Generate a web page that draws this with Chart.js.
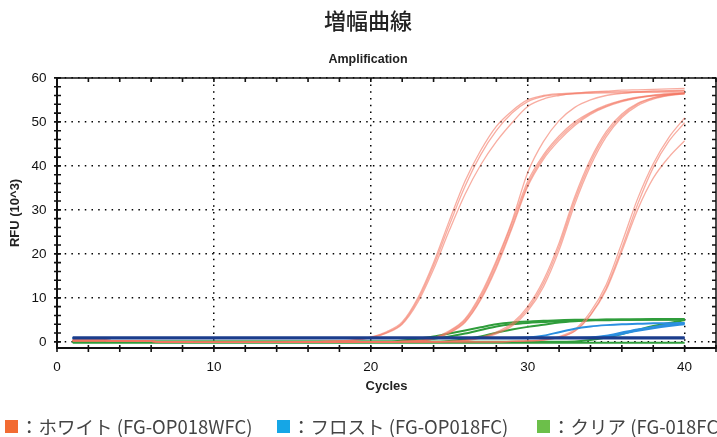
<!DOCTYPE html>
<html lang="ja">
<head>
<meta charset="UTF-8">
<title>増幅曲線</title>
<script src="https://cdn.jsdelivr.net/npm/chart.js"></script>
<style>
  body { margin: 0; background: #fff; }
  #wrap { position: relative; width: 717px; height: 437px; overflow: hidden; }
  #myChart { position: absolute; left: 0; top: 0; }
  .box { position: absolute; top: 420px; width: 13px; height: 13px; }
  .key { position: absolute; top: 415px; line-height: 22px; white-space: nowrap;
         font-family: "Noto Sans CJK JP", sans-serif; font-size: 18.5px; color: #444; }
</style>
</head>
<body>
<div id="wrap">
  <canvas id="myChart" width="736" height="437"></canvas>
  <div class="box" style="left:5px;background:#f26b32"></div>
  <div class="key" style="left:20px">：ホワイト (FG-OP018WFC)</div>
  <div class="box" style="left:277px;background:#15a6e6"></div>
  <div class="key" style="left:292px">：フロスト (FG-OP018FC)</div>
  <div class="box" style="left:537px;background:#6cbf4a"></div>
  <div class="key" style="left:552px">：クリア (FG-018FC)</div>
</div>
<script>
// cycles 1..40
let cycles = [1,2,3,4,5,6,7,8,9,10,11,12,13,14,15,16,17,18,19,20,
              21,22,23,24,25,26,27,28,29,30,31,32,33,34,35,36,37,38,39,40];
let xTicks = [0,2,4,6,8,10,12,14,16,18,20,22,24,26,28,30,32,34,36,38,40,42];
let xLabels = [0,10,20,30,40];
let yTicks = [0,2,4,6,8,10,12,14,16,18,20,22,24,26,28,30,32,34,36,38,40,42,44,46,48,50,52,54,56,58,60];
let yLabels = [0,10,20,30,40,50,60];

// ホワイト (RFU x10^3)
let redA1 = [0.3,0.3,0.3,0.2,0.2,0.1,0,0,-0.1,-0.1,-0.1,-0.1,-0.1,-0.1,0,0,0.1,0.2,0.5,1.1,
             2.3,4.5,10,18,27.5,36.5,43.5,49,52.5,55,56,56.4,56.6,56.7,56.8,56.9,56.9,57,57,57.1];
let redA2 = [0.3,0.3,0.3,0.2,0.2,0.1,0,0,-0.1,-0.1,-0.1,-0.1,-0.1,-0.1,0,0,0.1,0.2,0.4,1.0,
             2.1,4.2,9.5,17.3,26.5,35.3,42.5,48,52,54.6,55.8,56.2,56.4,56.5,56.6,56.6,56.7,56.7,56.8,56.8];
let redA3 = [0.3,0.3,0.3,0.2,0.2,0.1,0,0,-0.1,-0.1,-0.1,-0.1,-0.1,-0.1,0,0,0.1,0.2,0.4,0.9,
             2.0,4.0,9.0,16.5,25.3,33.5,40.2,45.5,49.8,53.5,55.2,56,56.5,56.8,57,57.2,57.3,57.4,57.5,57.6];
let redB1 = [0.3,0.3,0.3,0.2,0.2,0.1,0,0,-0.1,-0.1,-0.1,-0.1,-0.1,-0.1,-0.1,0,0,0,0,0,
             0,0.1,0.3,0.9,2.5,5.2,10.8,18.5,27.5,38.5,45.5,50.3,53.3,55,56,56.5,56.8,57,57.1,57.2];
let redB2 = [0.3,0.3,0.3,0.2,0.2,0.1,0,0,-0.1,-0.1,-0.1,-0.1,-0.1,-0.1,-0.1,0,0,0,0,0,
             0,0.1,0.3,0.8,2.3,4.9,10.3,18,27,36.5,42.5,46.8,50,52.2,53.8,54.9,55.6,56.1,56.4,56.6];
let redB3 = [0.3,0.3,0.3,0.2,0.2,0.1,0,0,-0.1,-0.1,-0.1,-0.1,-0.1,-0.1,-0.1,0,0,0,0,0,
             0,0.1,0.2,0.7,2.1,4.6,9.8,17.3,26.3,35.8,42,46.3,49.6,52,53.6,54.8,55.5,56,56.3,56.5];
let redB4 = [0.3,0.3,0.3,0.2,0.2,0.1,0,0,-0.1,-0.1,-0.1,-0.1,-0.1,-0.1,-0.1,0,0,0,0,0,
             0,0.1,0.2,0.7,2.0,4.4,9.5,16.8,25.8,35.3,41.5,45.8,49.2,51.7,53.4,54.6,55.4,55.9,56.2,56.4];
let redC1 = [0.3,0.3,0.3,0.2,0.2,0.1,0,0,-0.1,-0.1,-0.1,-0.1,-0.1,-0.1,-0.1,-0.1,-0.1,-0.1,0,0,
             0,0,0,0,0.1,0.4,1.0,2.2,4.2,8,14,22.5,33,41.5,47.8,51.8,54.2,55.5,56.2,56.6];
let redC2 = [0.3,0.3,0.3,0.2,0.2,0.1,0,0,-0.1,-0.1,-0.1,-0.1,-0.1,-0.1,-0.1,-0.1,-0.1,-0.1,0,0,
             0,0,0,0,0.1,0.3,0.9,2.0,3.9,7.5,13.3,21.7,32.2,40.8,47.2,51.4,54,55.4,56.1,56.5];
let redC3 = [0.3,0.3,0.3,0.2,0.2,0.1,0,0,-0.1,-0.1,-0.1,-0.1,-0.1,-0.1,-0.1,-0.1,-0.1,-0.1,0,0,
             0,0,0,0,0.1,0.3,0.8,1.8,3.6,7.0,12.5,20.8,31.3,40,46.6,51,53.7,55.2,56,56.4];
let redD1 = [0.3,0.3,0.3,0.2,0.2,0.1,0,0,-0.1,-0.1,-0.1,-0.1,-0.1,-0.1,-0.1,-0.1,-0.1,-0.1,-0.1,-0.1,
             -0.1,0,0,0,0,0,0,0,0.1,0.2,0.5,1.2,2.8,6.8,13,22.5,32.5,40.5,46.5,50.9];
let redD2 = [0.3,0.3,0.3,0.2,0.2,0.1,0,0,-0.1,-0.1,-0.1,-0.1,-0.1,-0.1,-0.1,-0.1,-0.1,-0.1,-0.1,-0.1,
             -0.1,0,0,0,0,0,0,0,0.1,0.2,0.4,1.0,2.5,6.2,12.2,21.3,31.2,39.6,45.6,49.8];
let redD3 = [0.3,0.3,0.3,0.2,0.2,0.1,0,0,-0.1,-0.1,-0.1,-0.1,-0.1,-0.1,-0.1,-0.1,-0.1,-0.1,-0.1,-0.1,
             -0.1,0,0,0,0,0,0,0,0.1,0.2,0.4,1.0,2.4,6.0,11.8,20.6,30,37.2,42,45.7];

// フロスト
let navy1 = [1,1,1,1,1,1,1,1,1,1,1,1,1,1,1,1,1,1,1,1,
             1,1,1,1,1,1,1,1,1,1,1,1,1,1,1,1,1,1,1,1];
let navy2 = [0.8,0.8,0.8,0.8,0.8,0.8,0.8,0.8,0.8,0.8,0.8,0.8,0.8,0.8,0.8,0.8,0.8,0.8,0.8,0.8,
             0.8,0.8,0.8,0.8,0.8,0.8,0.8,0.8,0.8,0.8,0.8,0.8,0.8,0.8,0.8,0.8,0.8,0.8,0.8,0.8];
let blue1 = [0.9,0.9,0.9,0.9,0.9,0.9,0.9,0.9,0.9,0.9,0.9,0.9,0.9,0.9,0.9,0.9,0.9,0.9,0.9,0.9,
             0.9,0.9,0.9,0.9,0.9,0.9,0.9,0.9,0.9,1.0,1.4,2.2,3.0,3.5,3.8,4.0,4.1,4.2,4.2,4.3];
let blue2 = [0.9,0.9,0.9,0.9,0.9,0.9,0.9,0.9,0.9,0.9,0.9,0.9,0.9,0.9,0.9,0.9,0.9,0.9,0.9,0.9,
             0.9,0.9,0.9,0.9,0.9,0.9,0.9,0.9,0.9,0.9,0.9,0.9,0.9,1.0,1.4,2.1,2.8,3.4,3.9,4.2];
let blue3 = [0.9,0.9,0.9,0.9,0.9,0.9,0.9,0.9,0.9,0.9,0.9,0.9,0.9,0.9,0.9,0.9,0.9,0.9,0.9,0.9,
             0.9,0.9,0.9,0.9,0.9,0.9,0.9,0.9,0.9,0.9,0.9,0.9,0.9,0.9,1.2,1.8,2.5,3.1,3.6,4.0];

// クリア
let green1 = [0,0,0,0,0,0,0,0,0,0,0,0,0,0,0,0,0,0,0,0,
              0,0.3,0.7,1.2,1.9,2.6,3.3,4.0,4.4,4.6,4.8,4.9,5.0,5.0,5.1,5.1,5.1,5.2,5.2,5.2];
let green2 = [0,0,0,0,0,0,0,0,0,0,0,0,0,0,0,0,0,0,0,0,
              0,0,0.3,0.7,1.2,1.9,2.7,3.5,4.0,4.3,4.5,4.7,4.8,4.9,4.9,5.0,5.0,5.0,5.0,5.0];
let green3 = [0,0,0,0,0,0,0,0,0,0,0,0,0,0,0,0,0,0,0,0,
              0,0,0,0,0.2,0.6,1.2,2.1,2.8,3.4,3.9,4.4,4.7,4.9,5.0,5.0,5.1,5.1,5.1,5.1];
let green4 = [0,0,0,0,0,0,0,0,0,0,0,0,0,0,0,0,0,0,0,0,
              0,0,0,0,0,0,0,0,0,0,0,0,0.1,0.4,1.0,1.8,2.7,3.6,4.3,4.9];
let green5 = [-0.2,-0.2,-0.2,-0.2,-0.2,-0.2,-0.2,-0.2,-0.2,-0.2,-0.2,-0.2,-0.2,-0.2,-0.2,-0.2,-0.2,-0.2,-0.2,-0.2,
              -0.2,-0.2,-0.2,-0.2,-0.2,-0.2,-0.2,-0.2,-0.2,-0.2,-0.2,-0.2,-0.2,-0.2,-0.2,-0.2,-0.2,-0.2,-0.2,-0.2];

let redCurves = [redA1, redA2, redA3, redB1, redB2, redB3, redB4, redC1, redC2, redC3, redD1, redD2, redD3];
let navyCurves = [navy1, navy2];
let blueCurves = [blue1, blue2, blue3];
let greenCurves = [green1, green2, green3, green4, green5];

function makeSet(values, color, width) {
    return { data: values, borderColor: color, borderWidth: width, yAxisID: 'y',
             pointRadius: 0, fill: false, cubicInterpolationMode: 'monotone' };
}

// first dataset is drawn on top
let datasets = [];
navyCurves.forEach(v => datasets.push(makeSet(v, '#1b3d8c', 2.6)));
blueCurves.forEach(v => datasets.push(makeSet(v, '#2b8fe0', 2)));
redCurves.forEach(v => datasets.push(makeSet(v, 'rgba(243,118,98,0.6)', 1.3)));
greenCurves.forEach(v => datasets.push(makeSet(v, '#2f9d3b', 2)));

// frame on top/right plus small ticks crossing all four borders
let frameTicks = {
    id: 'frameTicks',
    afterDatasetsDraw(chart) {
        let ctx = chart.ctx;
        let a = chart.chartArea;
        let sx = chart.scales.x;
        let sy = chart.scales.y;
        ctx.save();
        ctx.strokeStyle = '#111';
        ctx.lineWidth = 1.5;
        ctx.beginPath();
        ctx.moveTo(a.left, a.top);
        ctx.lineTo(a.right, a.top);
        ctx.lineTo(a.right, a.bottom);
        ctx.stroke();
        ctx.lineWidth = 1.6;
        ctx.beginPath();
        xTicks.forEach(v => {
            let px = sx.getPixelForValue(v);
            ctx.moveTo(px, a.bottom - 3);
            ctx.lineTo(px, a.bottom + 4);
            ctx.moveTo(px, a.top);
            ctx.lineTo(px, a.top + 4);
        });
        yTicks.forEach(v => {
            let py = sy.getPixelForValue(v);
            ctx.moveTo(a.left - 3, py);
            ctx.lineTo(a.left + 4, py);
            ctx.moveTo(a.right - 4, py);
            ctx.lineTo(a.right, py);
        });
        ctx.stroke();
        ctx.restore();
    }
};

let numFont = { family: '"Liberation Sans", Arial, sans-serif', size: 13.5 };
let boldFont = { family: '"Liberation Sans", Arial, sans-serif', size: 13, weight: 'bold' };

let ctx = document.getElementById('myChart');
let myChart = new Chart(ctx, {
    type: 'line',
    data: { labels: cycles, datasets: datasets },
    options: {
        responsive: false,
        animation: false,
        events: [],
        layout: { padding: { left: 0, right: 0, top: 0, bottom: 39 } },
        plugins: {
            legend: { display: false },
            tooltip: { enabled: false },
            title: {
                display: true, text: '増幅曲線', color: '#222',
                font: { family: '"Noto Sans CJK JP", sans-serif', size: 22, weight: 500 },
                padding: { top: 7, bottom: 19 }
            },
            subtitle: {
                display: true, text: 'Amplification', color: '#222',
                font: { family: '"Liberation Sans", Arial, sans-serif', size: 12.5, weight: 'bold' },
                padding: { top: 0, bottom: 10.5 }
            }
        },
        scales: {
            x: {
                type: 'linear', min: 0, max: 42,
                afterBuildTicks: s => { s.ticks = xTicks.map(v => ({ value: v })); },
                afterFit: s => { s.height = 50; },
                ticks: {
                    autoSkip: false, maxRotation: 0, padding: 11, color: '#111', font: numFont,
                    callback: v => xLabels.includes(v) ? String(v) : ''
                },
                grid: {
                    drawTicks: false, color: '#000',
                    lineWidth: c => (c.tick && xLabels.includes(c.tick.value)) ? 1.5 : 0
                },
                border: { display: true, color: '#111', width: 2, dash: [1.5, 5.2] },
                title: { display: true, text: 'Cycles', color: '#222', font: boldFont,
                         padding: { top: 4, bottom: 4 } }
            },
            y: {
                type: 'linear', position: 'left', min: -1.4, max: 60,
                afterBuildTicks: s => { s.ticks = yTicks.map(v => ({ value: v })); },
                afterFit: s => { s.width = 57; },
                ticks: {
                    autoSkip: false, padding: 10.5, color: '#111', font: numFont,
                    callback: v => yLabels.includes(v) ? String(v) : ''
                },
                grid: {
                    drawTicks: false, color: '#000',
                    lineWidth: c => (c.tick && yLabels.includes(c.tick.value)) ? 1.5 : 0
                },
                border: { display: true, color: '#111', width: 2, dash: [1.5, 5.2] },
                title: { display: true, text: 'RFU (10^3)', color: '#222', font: boldFont,
                         padding: { top: 8, bottom: 0 } }
            },
            // empty strip on the right, the page crops the chart just past the frame
            yEdge: {
                type: 'linear', position: 'right', display: true,
                afterFit: s => { s.width = 20; },
                ticks: { display: false },
                grid: { display: false },
                border: { display: false }
            }
        }
    },
    plugins: [frameTicks]
});
</script>
</body>
</html>
